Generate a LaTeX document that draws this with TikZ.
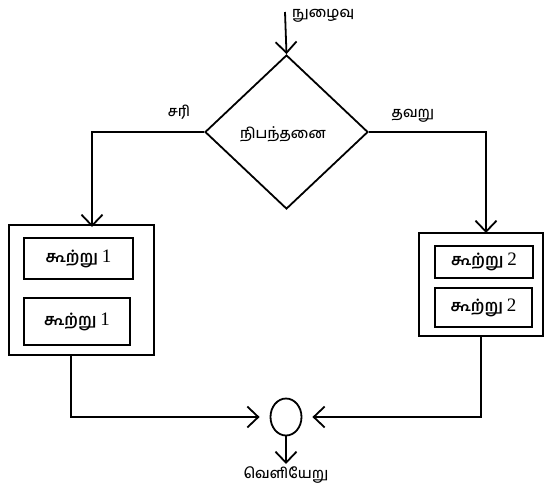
\documentclass[tikz,border=0pt]{standalone}
\usepackage{fontspec}
\newfontfamily\tamil[Script=Tamil,UprightFont=* Medium]{Hind Madurai}
\newfontfamily\tamilb[Script=Tamil,UprightFont=* SemiBold]{Hind Madurai}
\newfontfamily\numfont{Liberation Serif}
\usetikzlibrary{shapes.geometric,arrows.meta}
\begin{document}
\begin{tikzpicture}[x=1pt,y=-1pt,
  every node/.style={inner sep=0pt},
  conn/.style={line width=1.8pt,-{Straight Barb[length=11pt,width=21pt,line width=1.8pt]}},
  boxo/.style={draw,line width=1.8pt,rectangle},
  lbl/.style={font=\tamil\fontsize{14.5}{16}\selectfont},
  stmt/.style={draw,line width=2pt,rectangle,font=\tamilb\fontsize{16}{18}\selectfont}]
\useasboundingbox (0,0) rectangle (544,483);
% entry
\coordinate (in) at (285,12);
\node[lbl,anchor=west] (inl) at (292,16) {நுழைவு};
% decision
\node[draw,diamond,line width=1.8pt,minimum width=163pt,minimum height=154pt,aspect=1.06] (d) at (286.5,132) {};
\node[lbl] (dt) at (283,134) {நிபந்தனை};
\node[lbl] (yes) at (179,112) {சரி};
\node[lbl] (no) at (413,116) {தவறு};
% left block
\node[boxo,minimum width=145pt,minimum height=130pt] (lbox) at (81.5,290) {};
\node[stmt,minimum width=109pt,minimum height=41pt] (l1) at (78.5,258.5) {கூற்று {\numfont\fontsize{19}{20}\selectfont 1}};
\node[stmt,minimum width=106pt,minimum height=47pt] (l2) at (77,321.5) {கூற்று {\numfont\fontsize{19}{20}\selectfont 1}};
% right block
\node[boxo,minimum width=124pt,minimum height=103pt] (rbox) at (481,284.5) {};
\node[stmt,minimum width=98pt,minimum height=32pt] (r1) at (484,262) {கூற்று {\numfont\fontsize{19}{20}\selectfont 2}};
\node[stmt,minimum width=97pt,minimum height=39pt] (r2) at (483.5,307.5) {கூற்று {\numfont\fontsize{19}{20}\selectfont 2}};
% join
\node[draw,ellipse,line width=1.8pt,minimum width=31pt,minimum height=37pt] (j) at (286,417) {};
\node[lbl] (out) at (286,475) {வெளியேறு};
\coordinate (la) at (92,227);
\coordinate (ra) at (486,233);
\coordinate (lb) at (71,355);
\coordinate (rb) at (481,336);
\coordinate (ot) at (286,464);
% connectors
\draw[conn] (in) -- (d.north);
\draw[conn] (d.west) -| (la);
\draw[conn] (d.east) -| (ra);
\draw[conn,shorten >=10pt] (lb) |- (j.west);
\draw[conn,shorten >=10pt] (rb) |- (j.east);
\draw[conn] (j.south) -- (ot);
\end{tikzpicture}
\end{document}
